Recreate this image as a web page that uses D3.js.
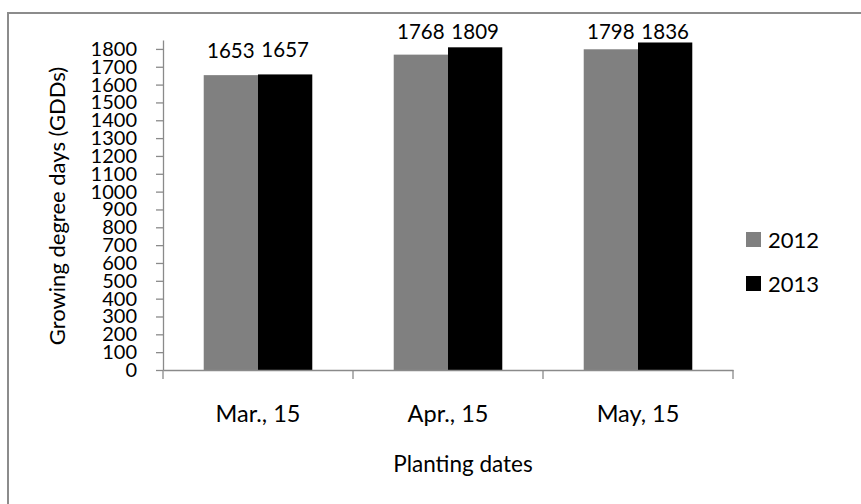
<!DOCTYPE html>
<html>
<head>
<meta charset="utf-8">
<script src="https://cdn.jsdelivr.net/npm/d3@7"></script>
<style>
  html, body { margin: 0; padding: 0; background: #fff; }
  svg { display: block; font-family: Lato, "Open Sans", sans-serif; }
</style>
</head>
<body>
<svg id="chart" width="861" height="504"></svg>
<script>
// Planting dates and growing degree days per season
const categories = ["Mar., 15", "Apr., 15", "May, 15"];
const seriesNames = ["2012", "2013"];
const values2012 = [1653, 1768, 1798];
const values2013 = [1657, 1809, 1836];
const yTicks = [0, 100, 200, 300, 400, 500, 600, 700, 800, 900, 1000, 1100, 1200, 1300, 1400, 1500, 1600, 1700, 1800];
const seriesColors = ["#808080", "#000000"];

const seriesValues = [values2012, values2013];
const rows = categories.map((c, i) => ({
  category: c,
  bars: seriesNames.map((s, j) => ({ series: s, value: seriesValues[j][i] }))
}));

const svg = d3.select("#chart");
const axisColor = "#8a8a8a";

// outer frame
svg.append("rect")
  .attr("x", 8).attr("y", 13)
  .attr("width", 900).attr("height", 600)
  .attr("fill", "none")
  .attr("stroke", "#8c8c8c")
  .attr("stroke-width", 2);

const plotLeft = 163, plotRight = 733, plotBottom = 370, plotTop = 40;

const y = d3.scaleLinear().domain([0, 1850]).range([plotBottom, plotTop]);
const x = d3.scaleBand().domain(categories).range([plotLeft, plotRight]).paddingInner(0).paddingOuter(0);
const xs = d3.scaleBand().domain(seriesNames).range([0, x.bandwidth()]).paddingInner(0).paddingOuter(0.75);
const color = d3.scaleOrdinal().domain(seriesNames).range(seriesColors);

// bars
const groups = svg.append("g").selectAll("g")
  .data(rows).join("g")
  .attr("transform", d => `translate(${x(d.category)},0)`);

groups.selectAll("rect")
  .data(d => d.bars).join("rect")
  .attr("x", d => xs(d.series))
  .attr("y", d => y(d.value))
  .attr("width", xs.bandwidth())
  .attr("height", d => y(0) - y(d.value))
  .attr("fill", d => color(d.series));

// value labels above each bar, kept inside the plot area
const labelTopLimit = 38.7;
groups.selectAll("text")
  .data(d => d.bars).join("text")
  .attr("x", d => xs(d.series) + xs.bandwidth() / 2)
  .attr("y", d => Math.max(y(d.value) - 17, labelTopLimit))
  .attr("text-anchor", "middle")
  .attr("font-size", 20.5)
  .attr("fill", "#000")
  .text(d => d.value);

// y axis
const yAxis = d3.axisLeft(y).tickValues(yTicks).tickFormat(d3.format("d"))
  .tickSize(7).tickPadding(19).tickSizeOuter(0);
const gy = svg.append("g").attr("transform", `translate(${plotLeft},0)`).call(yAxis);
gy.select(".domain").attr("stroke", axisColor).attr("stroke-width", 1.3);
gy.selectAll(".tick line").attr("stroke", axisColor).attr("stroke-width", 1.3);
gy.selectAll(".tick text")
  .attr("font-family", "Lato, 'Open Sans', sans-serif")
  .attr("font-size", 20)
  .attr("fill", "#000");

// x axis with tick marks on category boundaries
const xAxis = d3.axisBottom(x).tickSize(0).tickPadding(0);
const gx = svg.append("g").attr("transform", `translate(0,${plotBottom})`).call(xAxis);
gx.select(".domain").attr("stroke", axisColor).attr("stroke-width", 1.3);
gx.selectAll(".tick text")
  .attr("font-family", "Lato, 'Open Sans', sans-serif")
  .attr("font-size", 23.5)
  .attr("fill", "#000")
  .attr("dy", 0)
  .attr("y", 51.7);
const boundaries = categories.map(c => x(c)).concat([x(categories[categories.length - 1]) + x.bandwidth()]);
gx.selectAll(".boundary")
  .data(boundaries).join("line")
  .attr("class", "boundary")
  .attr("x1", d => d).attr("x2", d => d)
  .attr("y1", 0).attr("y2", 9)
  .attr("stroke", axisColor).attr("stroke-width", 1.3);

// axis titles
svg.append("text")
  .attr("x", (plotLeft + plotRight) / 2 + 15)
  .attr("y", 472)
  .attr("text-anchor", "middle")
  .attr("font-size", 22.5)
  .attr("fill", "#000")
  .text("Planting dates");

svg.append("text")
  .attr("transform", "translate(65,206) rotate(-90)")
  .attr("text-anchor", "middle")
  .attr("font-size", 22)
  .attr("fill", "#000")
  .text("Growing degree days (GDDs)");

// legend
const legend = svg.append("g").selectAll("g")
  .data(seriesNames).join("g")
  .attr("transform", (d, i) => `translate(746,${232 + i * 44})`);
legend.append("rect")
  .attr("width", 15).attr("height", 15)
  .attr("fill", d => color(d));
legend.append("text")
  .attr("x", 22).attr("y", 15.5)
  .attr("font-size", 22)
  .attr("fill", "#000")
  .text(d => d);
</script>
</body>
</html>
